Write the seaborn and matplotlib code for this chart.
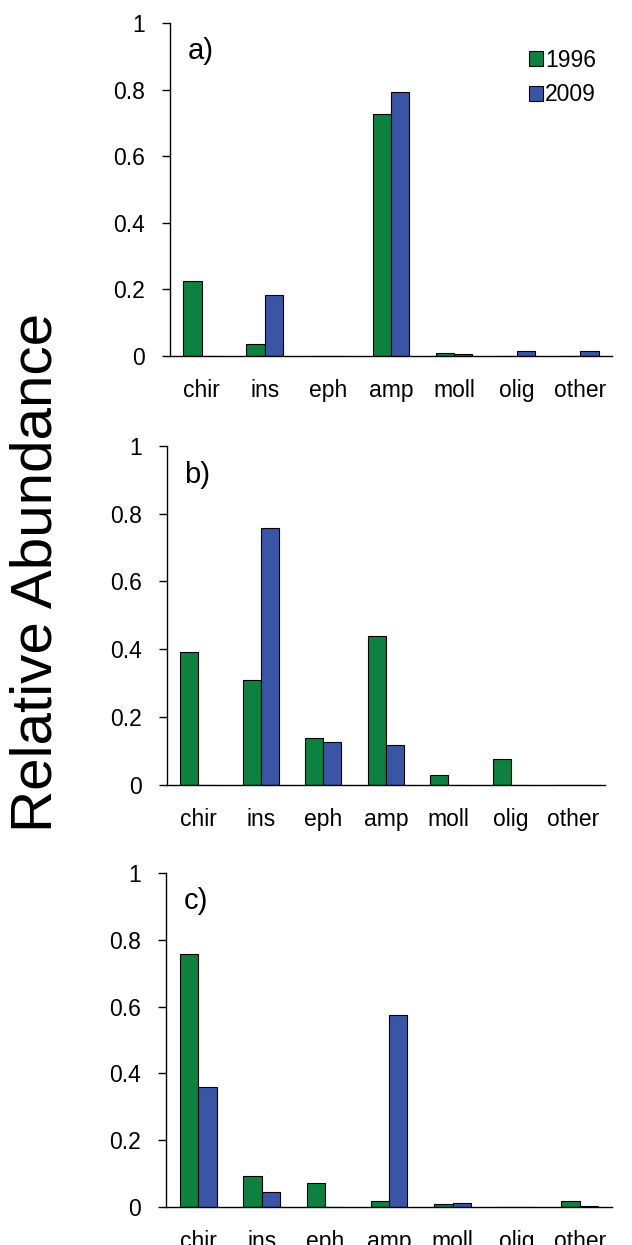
import pandas as pd
import seaborn as sns
import matplotlib.pyplot as plt

categories = ["chir", "ins", "eph", "amp", "moll", "olig", "other"]
years = ["1996", "2009"]

a_1996 = [0.226, 0.035, 0.0, 0.728, 0.010, 0.001, 0.0]
a_2009 = [0.0, 0.183, 0.0, 0.794, 0.005, 0.014, 0.014]
b_1996 = [0.393, 0.310, 0.138, 0.440, 0.030, 0.078, 0.0]
b_2009 = [0.0, 0.756, 0.126, 0.118, 0.0, 0.0, 0.0]
c_1996 = [0.757, 0.094, 0.073, 0.017, 0.010, 0.0, 0.018]
c_2009 = [0.360, 0.045, 0.0, 0.575, 0.011, 0.0, 0.003]

panels = [
    ("a)", a_1996, a_2009, [0.269, 0.714, 0.699, 0.2675]),
    ("b)", b_1996, b_2009, [0.264, 0.3695, 0.693, 0.2725]),
    ("c)", c_1996, c_2009, [0.263, 0.0305, 0.705, 0.2683]),
]

sns.set_style("white")
plt.rcParams["font.family"] = ["Liberation Sans", "DejaVu Sans"]
plt.rcParams["text.color"] = "black"
plt.rcParams["xtick.color"] = "black"
plt.rcParams["ytick.color"] = "black"

colors = {"1996": "#0e8040", "2009": "#3a55a6"}

fig = plt.figure(figsize=(6.32, 12.45), dpi=100)

for i, (label, v96, v09, rect) in enumerate(panels):
    df = pd.DataFrame({
        "group": categories * 2,
        "year": [years[0]] * len(categories) + [years[1]] * len(categories),
        "value": v96 + v09,
    })
    ax = fig.add_axes(rect)
    sns.barplot(
        data=df, x="group", y="value", hue="year", order=categories,
        hue_order=years, palette=colors, width=0.58, edgecolor="black",
        linewidth=0.8, saturation=1, ax=ax, legend=(i == 0),
    )
    ax.set_ylim(0, 1)
    ax.set_xlim(-0.5, 6.5)
    ax.set_yticks([0, 0.2, 0.4, 0.6, 0.8, 1])
    ax.set_yticklabels(["0", "0.2", "0.4", "0.6", "0.8", "1"])
    ax.tick_params(axis="y", left=True, length=6, width=1, pad=12, labelsize=16.5)
    ax.tick_params(axis="x", bottom=False, pad=13, labelsize=16.5)
    ax.set_xlabel("")
    ax.set_ylabel("")
    for side in ["top", "right"]:
        ax.spines[side].set_visible(False)
    for side in ["left", "bottom"]:
        ax.spines[side].set_color("black")
        ax.spines[side].set_linewidth(1)
    ax.text(0.04, 0.915, label, transform=ax.transAxes, fontsize=21, ha="left", va="center")
    if i == 0:
        ax.legend(
            loc="upper right", bbox_to_anchor=(0.985, 0.95), frameon=False,
            fontsize=16.5, handlelength=0.6, handleheight=0.6, handletextpad=0.1,
            labelspacing=0.5, borderaxespad=0,
        )

fig.text(0.058, 0.54, "Relative Abundance", rotation=90, fontsize=42, ha="center", va="center")

plt.savefig("out.png", dpi=100)
